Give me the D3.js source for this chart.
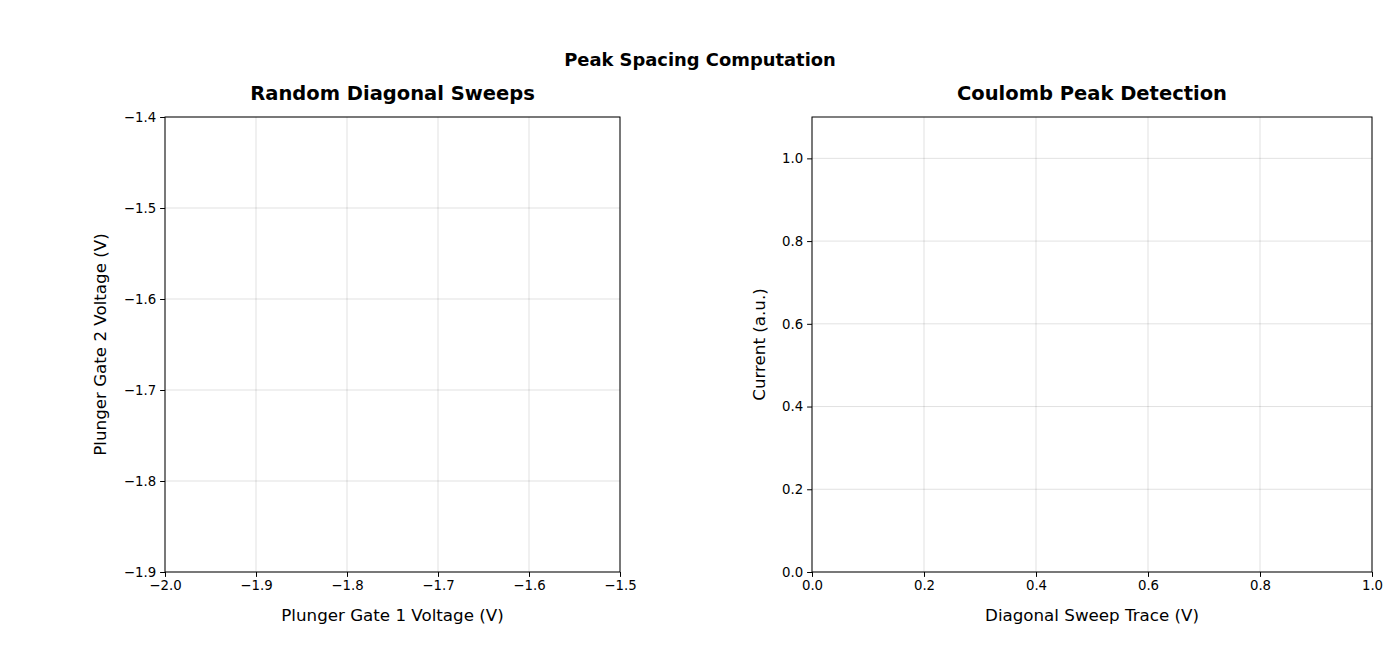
<!DOCTYPE html>
<html><head><meta charset="utf-8">
<script src="https://cdn.jsdelivr.net/npm/d3@7"></script>
<style>body{margin:0;background:#fff}text{font-family:"DejaVu Sans",sans-serif}</style>
</head><body><svg id="c" width="1400" height="650"></svg>
<script>
const leftXTicks=[-2.0,-1.9,-1.8,-1.7,-1.6,-1.5];
const leftYTicks=[-1.9,-1.8,-1.7,-1.6,-1.5,-1.4];
const rightXTicks=[0.0,0.2,0.4,0.6,0.8,1.0];
const rightYTicks=[0.0,0.2,0.4,0.6,0.8,1.0];
const sweeps=[]; // no sweep lines drawn in reference
const peaks=[];
const svg=d3.select("#c");
const fmt=d=>d3.format(".1f")(d).replace("-","\u2212");
svg.append("text").attr("x",700).attr("y",66).attr("text-anchor","middle").attr("font-size",17.9).attr("font-weight","bold").text("Peak Spacing Computation");
function panel(x0,x1,y0,y1,xd,yd,xt,yt,title,xl,yl,ylx){
  const xs=d3.scaleLinear().domain(xd).range([x0,x1]);
  const ys=d3.scaleLinear().domain(yd).range([y1,y0]);
  const g=svg.append("g");
  xt.forEach(t=>g.append("line").attr("x1",xs(t)).attr("x2",xs(t)).attr("y1",y0).attr("y2",y1).attr("stroke","#000").attr("stroke-opacity",0.15).attr("stroke-width",0.8));
  yt.forEach(t=>g.append("line").attr("y1",ys(t)).attr("y2",ys(t)).attr("x1",x0).attr("x2",x1).attr("stroke","#000").attr("stroke-opacity",0.15).attr("stroke-width",0.8));
  const ax=g.append("g").attr("transform",`translate(0,${y1})`).call(d3.axisBottom(xs).tickValues(xt).tickFormat(fmt).tickSize(4.9).tickPadding(4));
  const ay=g.append("g").attr("transform",`translate(${x0},0)`).call(d3.axisLeft(ys).tickValues(yt).tickFormat(fmt).tickSize(4.9).tickPadding(4));
  [ax,ay].forEach(a=>{a.select(".domain").remove();a.selectAll("text").attr("font-size",13.3).attr("fill","#000").style("font-family","DejaVu Sans");});
  g.append("rect").attr("x",x0).attr("y",y0).attr("width",x1-x0).attr("height",y1-y0).attr("fill","none").attr("stroke","#000").attr("stroke-width",1);
  g.append("text").attr("x",(x0+x1)/2).attr("y",y0-17).attr("text-anchor","middle").attr("font-size",19.5).attr("font-weight","bold").text(title);
  g.append("text").attr("x",(x0+x1)/2).attr("y",y1+49).attr("text-anchor","middle").attr("font-size",16.7).text(xl);
  g.append("text").attr("transform",`translate(${ylx},${(y0+y1)/2}) rotate(-90)`).attr("text-anchor","middle").attr("font-size",16.7).text(yl);
}
panel(165,620,117,572,[-2.0,-1.5],[-1.9,-1.4],leftXTicks,leftYTicks,"Random Diagonal Sweeps","Plunger Gate 1 Voltage (V)","Plunger Gate 2 Voltage (V)",106);
panel(812,1372,117,572,[0,1],[0,1.1],rightXTicks,rightYTicks,"Coulomb Peak Detection","Diagonal Sweep Trace (V)","Current (a.u.)",765);
</script></body></html>
